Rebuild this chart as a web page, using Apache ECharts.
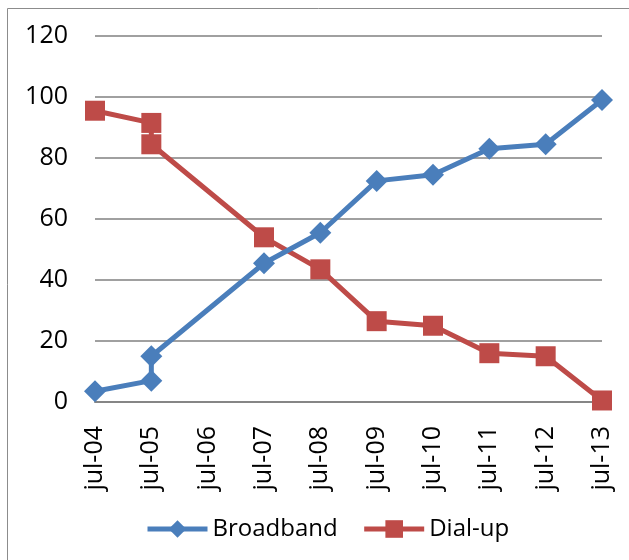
<!DOCTYPE html>
<html>
<head>
<meta charset="utf-8">
<script src="https://cdn.jsdelivr.net/npm/echarts@6/dist/echarts.min.js"></script>
<style>
  html, body { margin: 0; padding: 0; background: #fff; }
  #chart { width: 629px; height: 560px; }
</style>
</head>
<body>
<div id="chart"></div>
<script>
// x labels (one per year), points sit on the year index
const categories = ['jul-04', 'jul-05', 'jul-06', 'jul-07', 'jul-08', 'jul-09', 'jul-10', 'jul-11', 'jul-12', 'jul-13'];
// two surveys in jul-05, none in jul-06
const xPos = [0, 1, 1, 3, 4, 5, 6, 7, 8, 9];
const broadband = [3.5, 7, 15, 45.5, 55.5, 72.5, 74.5, 83, 84.5, 99];
const dialup = [95.5, 91.5, 84.5, 54, 43.5, 26.5, 25, 16, 15, 0.5];
const yTicks = [0, 20, 40, 60, 80, 100, 120];

const toPairs = (vals) => vals.map((v, i) => [xPos[i], v]);

const chart = echarts.init(document.getElementById('chart'));

const font = '"Open Sans", sans-serif';

const option = {
  animation: false,
  textStyle: { fontFamily: font },
  grid: { left: 95, right: 27, top: 36, bottom: 158 },
  graphic: [{
    type: 'rect',
    shape: { x: 7.5, y: 8.5, width: 700, height: 700 },
    style: { fill: 'none', stroke: '#8c8c8c', lineWidth: 1 },
    silent: true,
    z: -1
  }],
  legend: {
    left: 140,
    top: 512,
    itemWidth: 60,
    itemHeight: 22,
    itemGap: 24,
    lineStyle: { width: 5 },
    textStyle: { fontSize: 24, color: '#000', fontFamily: font },
    data: ['Broadband', 'Dial-up']
  },
  xAxis: {
    type: 'value',
    min: 0,
    max: categories.length - 1,
    interval: 1,
    splitLine: { show: false },
    axisTick: { show: false },
    axisLine: { show: true, lineStyle: { color: '#868686', width: 2 } },
    axisLabel: {
      rotate: 90,
      margin: 24,
      fontSize: 25,
      color: '#000',
      fontFamily: font,
      formatter: (v) => categories[v] || ''
    }
  },
  yAxis: {
    type: 'value',
    min: yTicks[0],
    max: yTicks[yTicks.length - 1],
    interval: 20,
    axisLine: { show: false },
    axisTick: { show: false },
    axisLabel: { fontSize: 25, color: '#000', margin: 27, padding: [5, 0, 0, 0], fontFamily: font },
    splitLine: { lineStyle: { color: '#a0a0a0', width: 2 } }
  },
  series: [
    {
      name: 'Broadband',
      type: 'line',
      data: toPairs(broadband),
      symbol: 'diamond',
      symbolSize: 22,
      lineStyle: { color: '#4a7ebb', width: 5 },
      itemStyle: { color: '#4a7ebb' },
      z: 3
    },
    {
      name: 'Dial-up',
      type: 'line',
      data: toPairs(dialup),
      symbol: 'rect',
      symbolSize: 20,
      lineStyle: { color: '#be4b48', width: 5 },
      itemStyle: { color: '#be4b48' },
      z: 2
    }
  ]
};

chart.setOption(option);
</script>
</body>
</html>
